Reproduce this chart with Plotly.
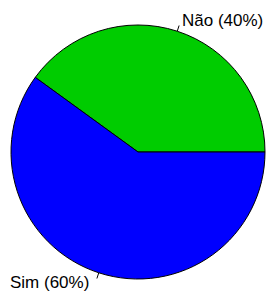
import math
import plotly.graph_objects as go

labels = ["Não", "Sim"]
values = [40, 60]
colors = ["#00CC00", "#0000FF"]

W, H = 269, 295
cx, cy, R = 138, 152, 127

fig = go.Figure()
fig.add_trace(go.Pie(
    labels=labels, values=values, sort=False, direction="counterclockwise",
    rotation=-54, textinfo="none", hoverinfo="label+percent",
    marker=dict(colors=colors, line=dict(color="black", width=1)),
    domain=dict(x=[(cx - R) / W, (cx + R) / W], y=[1 - (cy + R) / H, 1 - (cy - R) / H]),
    showlegend=False,
))

total = sum(values)
cum = 0
shapes, annots = [], []
for lab, v in zip(labels, values):
    mid = (cum + v / 2) / total * 360
    cum += v
    a = math.radians(mid)
    x0, y0 = cx + R * math.cos(a), cy - R * math.sin(a)
    x1, y1 = cx + (R + 6) * math.cos(a), cy - (R + 6) * math.sin(a)
    shapes.append(dict(type="line", xref="paper", yref="paper",
                       x0=x0 / W, y0=1 - y0 / H, x1=x1 / W, y1=1 - y1 / H,
                       line=dict(color="black", width=1)))
    pct = round(v / total * 100)
    up = math.sin(a) > 0
    right = math.cos(a) >= 0
    ty = y1 - 5 if up else y1 + 4
    annots.append(dict(
        text=f"{lab} ({pct}%)", xref="paper", yref="paper",
        x=(x1 + (1 if right else -6)) / W, y=1 - ty / H,
        xanchor="left" if right else "right", yanchor="middle",
        showarrow=False, font=dict(size=17, color="black"),
    ))

fig.update_layout(
    width=W, height=H, margin=dict(l=0, r=0, t=0, b=0),
    paper_bgcolor="white", plot_bgcolor="white",
    font=dict(family="Liberation Sans, Arial, sans-serif"),
    shapes=shapes, annotations=annots,
)
fig.write_html("out.html", config={"displayModeBar": False},
               post_script="document.body.style.margin='0px';")
